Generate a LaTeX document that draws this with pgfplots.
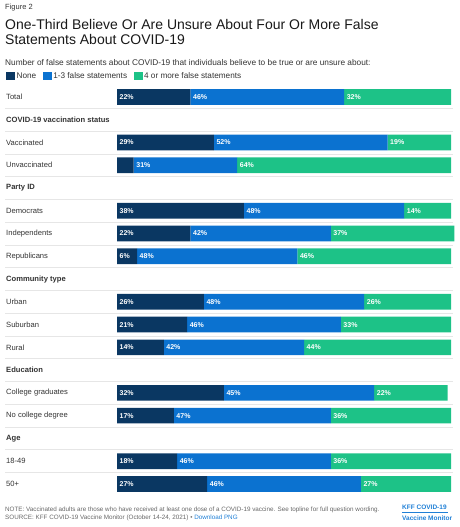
\documentclass[border=0pt]{standalone}
\usepackage{pgfplots}
\usepackage{pgfplotstable}
\pgfplotsset{compat=1.18}
\usepackage{fontspec}
\setmainfont{Liberation Sans}
\definecolor{navy}{HTML}{0A3762}
\definecolor{midblue}{HTML}{0B72D0}
\definecolor{kgreen}{HTML}{1DC287}
\definecolor{txt}{HTML}{333333}
\definecolor{sepcol}{HTML}{E6E6E6}
\definecolor{linkblue}{HTML}{1F7FD6}

\pgfplotstableread{
y none mid four
0 22 46 32
2 29 52 19
3 5 31 64
5 38 48 14
6 22 42 37
7 6 48 46
9 26 48 26
10 21 46 33
11 14 42 44
13 32 45 22
14 17 47 36
16 18 46 36
17 27 46 27
}\datatable

\pgfplotstableread{
x y lab
0 0 22\%
22 0 46\%
68 0 32\%
0 2 29\%
29 2 52\%
81 2 19\%
5 3 31\%
36 3 64\%
0 5 38\%
38 5 48\%
86 5 14\%
0 6 22\%
22 6 42\%
64 6 37\%
0 7 6\%
6 7 48\%
54 7 46\%
0 9 26\%
26 9 48\%
74 9 26\%
0 10 21\%
21 10 46\%
67 10 33\%
0 11 14\%
14 11 42\%
56 11 44\%
0 13 32\%
32 13 45\%
77 13 22\%
0 14 17\%
17 14 47\%
64 14 36\%
0 16 18\%
18 16 46\%
64 16 36\%
0 17 27\%
27 17 46\%
73 17 27\%
}\labeltable

\begin{document}
\begin{tikzpicture}
\path[use as bounding box] (0pt,0pt) rectangle (460pt,-527pt);
\node[anchor=base west, inner sep=0pt, text=txt, font=\fontsize{7.5}{8}\selectfont] at (5pt,-10pt) {Figure 2};
\node[anchor=base west, inner sep=0pt, text=black!90, font=\fontsize{14}{15}\selectfont] at (5pt,-30pt) {One-Third Believe Or Are Unsure About Four Or More False};
\node[anchor=base west, inner sep=0pt, text=black!90, font=\fontsize{14}{15}\selectfont] at (5pt,-44.3pt) {Statements About COVID-19};
\node[anchor=base west, inner sep=0pt, text=txt, font=\fontsize{8.3}{9}\selectfont] at (5pt,-66pt) {Number of false statements about COVID-19 that individuals believe to be true or are unsure about:};

\begin{axis}[
  at={(117pt,-85.6pt)}, anchor=north west,
  scale only axis, width=334pt, height=409.7pt,
  xmin=0, xmax=100, ymin=-0.5, ymax=17.5, y dir=reverse,
  xbar stacked, bar width=0.69,
  clip=false,
  axis line style={draw=none},
  xtick=\empty,
  ytick={0,...,17},
  major tick length=0pt,
  yticklabels={Total,\textbf{COVID-19 vaccination status},Vaccinated,Unvaccinated,\textbf{Party ID},Democrats,Independents,Republicans,\textbf{Community type},Urban,Suburban,Rural,\textbf{Education},College graduates,No college degree,\textbf{Age},18-49,50+},
  yticklabel style={anchor=west, xshift=-111pt, inner sep=0pt, text=txt, font=\fontsize{7.6}{8}\selectfont},
  legend image code/.code={\fill[#1] (0pt,-4pt) rectangle (9pt,4pt);},
  legend style={at={(0,1)}, anchor=west, xshift=-111pt, yshift=9.6pt, draw=none, fill=none, inner sep=0pt,
    legend columns=3, font=\fontsize{8.2}{9}\selectfont, text=txt,
    nodes={inner sep=1.5pt},
    /tikz/every even column/.append style={column sep=5pt}},
  legend cell align=left,
]
\pgfplotsinvokeforeach{0.5,1.5,2.5,3.5,4.5,5.5,6.5,7.5,8.5,9.5,10.5,11.5,12.5,13.5,14.5,15.5,16.5}{
  \draw[sepcol, line width=0.6pt] (axis cs:-33.5,#1) -- (axis cs:100.6,#1);
}
\addplot[fill=navy, draw=none] table[x=none, y=y] {\datatable};
\addplot[fill=midblue, draw=none] table[x=mid, y=y] {\datatable};
\addplot[fill=kgreen, draw=none] table[x=four, y=y] {\datatable};
\legend{None,1-3 false statements,4 or more false statements}
\end{axis}

\begin{axis}[
  at={(117pt,-85.6pt)}, anchor=north west,
  scale only axis, width=334pt, height=409.7pt,
  xmin=0, xmax=100, ymin=-0.5, ymax=17.5, y dir=reverse,
  hide axis, clip=false,
]
\addplot[draw=none, mark=none, nodes near coords, point meta=explicit symbolic,
  nodes near coords align=horizontal,
  nodes near coords style={anchor=west, inner sep=2.5pt, text=white, font=\bfseries\fontsize{7}{8}\selectfont}]
  table[x=x, y=y, meta=lab] {\labeltable};
\end{axis}

\node[anchor=base west, inner sep=0pt, text=black!60, font=\fontsize{6.3}{7}\selectfont] at (5pt,-511pt) {NOTE: Vaccinated adults are those who have received at least one dose of a COVID-19 vaccine. See topline for full question wording.};
\node[anchor=base west, inner sep=0pt, text=black!60, font=\fontsize{6.3}{7}\selectfont] at (5pt,-519.5pt) {SOURCE: KFF COVID-19 Vaccine Monitor (October 14-24, 2021) • \textcolor{linkblue}{Download PNG}};
\node[anchor=base west, inner sep=0pt, text=linkblue, font=\bfseries\fontsize{6.5}{7}\selectfont] at (402pt,-509.5pt) {KFF COVID-19};
\draw[linkblue, line width=0.4pt] (402pt,-512pt) -- (448pt,-512pt);
\node[anchor=base west, inner sep=0pt, text=linkblue, font=\bfseries\fontsize{6.5}{7}\selectfont] at (402pt,-520pt) {Vaccine Monitor};
\end{tikzpicture}
\end{document}
